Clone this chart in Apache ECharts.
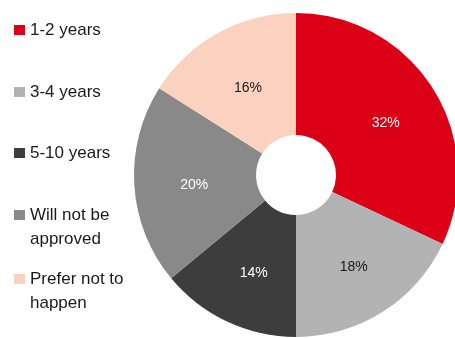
<!DOCTYPE html>
<html>
<head>
<meta charset="utf-8">
<style>
  html, body { margin: 0; padding: 0; background: #fff; }
  #chart { width: 455px; height: 338px; }
</style>
<script src="https://cdn.jsdelivr.net/npm/echarts@6/dist/echarts.min.js"></script>
</head>
<body>
<div id="chart"></div>
<script>
// Survey answers: expected approval timeline
const categories = ['1-2 years', '3-4 years', '5-10 years', 'Will not be approved', 'Prefer not to happen'];
const shares = [32, 18, 14, 20, 16];
const legendLines = [['1-2 years'], ['3-4 years'], ['5-10 years'], ['Will not be', 'approved'], ['Prefer not to', 'happen']];

const sliceColors = ['#DB0016', '#B3B3B3', '#3D3D3D', '#898989', '#FAD2BF'];
const labelColors = ['#ffffff', '#1a1a1a', '#ffffff', '#ffffff', '#1a1a1a'];
const legendTops = [18, 80, 141, 179, 243];

const chart = echarts.init(document.getElementById('chart'), null, { renderer: 'canvas' });

const font = 'Liberation Sans, Arial, sans-serif';

// Two-line entries get a blank leading line so the swatch sits beside the first line.
function legendText(lines) {
  return lines.length > 1 ? '\u00a0\n' + lines.join('\n') : lines[0];
}

const legends = categories.map((name, i) => ({
  data: [name],
  left: 14,
  top: legendTops[i],
  orient: 'vertical',
  icon: 'rect',
  itemWidth: 11,
  itemHeight: 10,
  itemGap: 0,
  padding: 0,
  selectedMode: false,
  formatter: () => legendText(legendLines[i]),
  textStyle: {
    fontFamily: font,
    fontSize: 17,
    color: '#1a1a1a',
    lineHeight: 24
  }
}));

chart.setOption({
  animation: false,
  color: sliceColors,
  legend: legends,
  series: [{
    type: 'pie',
    center: [296, 175],
    radius: [40, 162],
    startAngle: 90,
    clockwise: true,
    avoidLabelOverlap: false,
    label: {
      show: true,
      position: 'inside',
      formatter: '{c}%',
      fontFamily: font,
      fontSize: 14,
      offset: [2, 4]
    },
    labelLine: { show: false },
    emphasis: { disabled: true },
    data: categories.map((name, i) => ({
      name,
      value: shares[i],
      itemStyle: { color: sliceColors[i] },
      label: { color: labelColors[i] }
    }))
  }]
});
</script>
</body>
</html>
